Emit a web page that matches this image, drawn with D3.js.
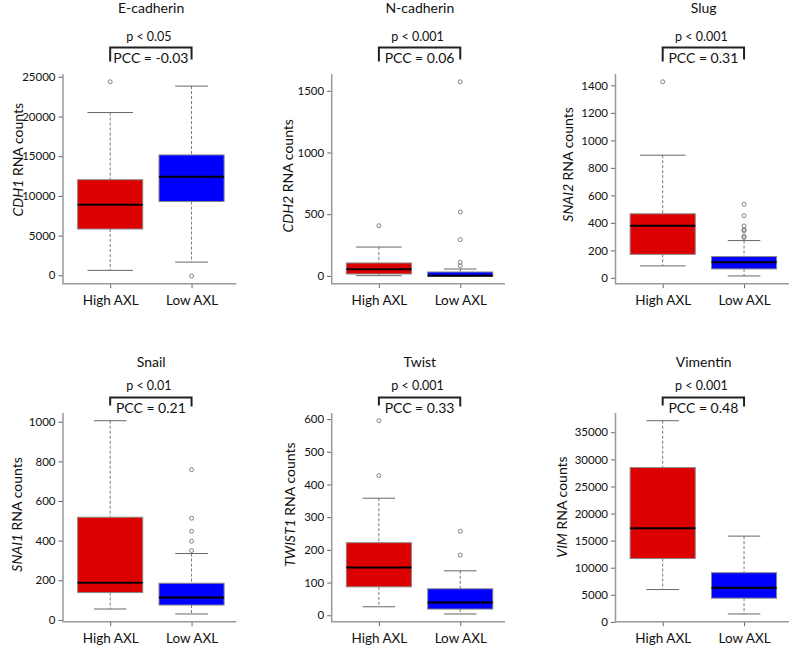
<!DOCTYPE html>
<html><head><meta charset="utf-8">
<script src="https://cdn.jsdelivr.net/npm/d3@7/dist/d3.min.js"></script>
<style>body{margin:0;background:#fff}svg{display:block;font-family:Lato,"Open Sans",sans-serif}</style>
</head><body><svg id="c" width="790" height="648"></svg>
<script>
// ---- data ----
const panelTitles = ["E-cadherin","N-cadherin","Slug","Snail","Twist","Vimentin"];
const geneNames = ["CDH1","CDH2","SNAI2","SNAI1","TWIST1","VIM"];
const pLabels = ["p < 0.05","p < 0.001","p < 0.001","p < 0.01","p < 0.001","p < 0.001"];
const pccLabels = ["PCC = -0.03","PCC = 0.06","PCC = 0.31","PCC = 0.21","PCC = 0.33","PCC = 0.48"];
const groups = ["High AXL","Low AXL"];
// [lower whisker, Q1, median, Q3, upper whisker]
const highStats = [
  [625, 5830, 8875, 12040, 20500],
  [2, 16, 55, 105, 234],
  [87, 171, 379, 466, 892],
  [55, 138, 188, 518, 1005],
  [26, 87, 146, 222, 358],
  [5970, 11690, 17290, 28480, 37130]
];
const lowStats = [
  [1660, 9290, 12410, 15160, 23830],
  [0, 0, 2, 32, 56],
  [14, 65, 113, 155, 271],
  [30, 75, 113, 185, 335],
  [4, 19, 39, 81, 136],
  [1460, 4380, 6280, 9075, 15830]
];
const highOutliers = [[24375],[407],[1426],[],[595,427],[]];
const lowOutliers = [[-80],[1573,518,294,110,82],[535,452,377,350,342,303,293],[758,513,447,397,350],[257,184],[]];
const yTicks = [
  [0,5000,10000,15000,20000,25000],
  [0,500,1000,1500],
  [0,200,400,600,800,1000,1200,1400],
  [0,200,400,600,800,1000],
  [0,100,200,300,400,500,600],
  [0,5000,10000,15000,20000,25000,30000,35000]
];

// ---- layout ----
const axisX = [63, 331.7, 615.5];
const rowTop = [74, 413], rowBottom = [283.7, 621.7];
const plotW = 173.3;
const titleY = [7.5, 361], pY = [36.7, 385.5], brTop = [47.5, 397.5], brLeg = [[14,12],[8,9]], pccY = [57.3, 407];
const ylabDx = [-46, -45, -48.3, -47.3, -42.7, -55];
const ylabY = [159.7, 175.8, 164.5, 514.5, 504.7, 507];
const capRatio = [[0.7,0.5],[0.5,0.5]];
const fills = ["#dd0000","#0000ff"];

const svg = d3.select("#c");
panelTitles.forEach((title, i) => {
  const row = Math.floor(i/3), col = i%3;
  const x0 = axisX[col], top = rowTop[row], bottom = rowBottom[row];
  const stats = [highStats[i], lowStats[i]];
  const outs = [highOutliers[i], lowOutliers[i]];
  const all = stats.flat().concat(outs.flat());
  const mn = d3.min(all), mx = d3.max(all), R = mx - mn;
  const y = d3.scaleLinear().domain([mn - 0.04*R, mx + 0.04*R]).range([bottom, top]);
  const x = d3.scaleLinear().domain([0.42, 2.55]).range([x0, x0 + plotW]);
  const bw = 0.8 * (x(2) - x(1));
  const g = svg.append("g");

  // axes
  const ya = g.append("g").attr("transform", `translate(${x0},0)`)
    .call(d3.axisLeft(y).tickValues(yTicks[i]).tickSize(4.5).tickPadding(3).tickFormat(d3.format("d")));
  ya.select(".domain").remove();
  ya.selectAll(".tick line").attr("stroke", "#666");
  ya.selectAll(".tick text").attr("font-size", "11.5px").attr("fill", "#111").attr("font-family","Lato");
  const xa = g.append("g").attr("transform", `translate(0,${bottom})`)
    .call(d3.axisBottom(x).tickValues([1,2]).tickSize(4.5).tickPadding(7).tickFormat((d,k)=>groups[k]));
  xa.select(".domain").remove();
  xa.selectAll(".tick line").attr("stroke", "#666");
  xa.selectAll(".tick text").attr("font-size", "13.5px").attr("fill", "#111").attr("font-family","Lato");
  g.append("path").attr("d", `M${x0},${top}V${bottom}H${x0+plotW}`)
    .attr("fill","none").attr("stroke","#999").attr("stroke-width",1.5);

  // boxes
  stats.forEach((s, k) => {
    const cx = x(k+1);
    const capW = bw * capRatio[row][k];
    g.append("line").attr("x1",cx).attr("x2",cx).attr("y1",y(s[4])).attr("y2",y(s[3]))
      .attr("stroke","#777").attr("stroke-dasharray","3,2").attr("stroke-width",1);
    g.append("line").attr("x1",cx).attr("x2",cx).attr("y1",y(s[1])).attr("y2",y(s[0]))
      .attr("stroke","#777").attr("stroke-dasharray","3,2").attr("stroke-width",1);
    g.append("line").attr("x1",cx-capW/2).attr("x2",cx+capW/2).attr("y1",y(s[4])).attr("y2",y(s[4]))
      .attr("stroke","#666").attr("stroke-width",1);
    g.append("line").attr("x1",cx-capW/2).attr("x2",cx+capW/2).attr("y1",y(s[0])).attr("y2",y(s[0]))
      .attr("stroke","#666").attr("stroke-width",1);
    g.append("rect").attr("x",cx-bw/2).attr("width",bw).attr("y",y(s[3])).attr("height",Math.max(1,y(s[1])-y(s[3])))
      .attr("fill",fills[k]).attr("stroke","#888").attr("stroke-width",1);
    g.append("line").attr("x1",cx-bw/2).attr("x2",cx+bw/2).attr("y1",y(s[2])).attr("y2",y(s[2]))
      .attr("stroke","#000").attr("stroke-width",2);
    g.selectAll(null).data(outs[k]).enter().append("circle")
      .attr("cx",cx).attr("cy",d=>y(d)).attr("r",2).attr("fill","none").attr("stroke","#666").attr("stroke-width",0.8);
  });

  // y label
  const yl = g.append("text").attr("transform",`translate(${x0+ylabDx[i]},${ylabY[i]}) rotate(-90)`)
    .attr("text-anchor","middle").attr("dominant-baseline","central").attr("font-size","14px").attr("fill","#111");
  yl.append("tspan").attr("font-style","italic").text(geneNames[i]);
  yl.append("tspan").text(" RNA counts");

  // title
  g.append("text").attr("x", x0 + plotW/2 + 1.5).attr("y", titleY[row]).attr("text-anchor","middle")
    .attr("dominant-baseline","central").attr("font-size","14px").attr("fill","#111").text(title);

  // bracket
  const bx1 = x(1), bx2 = x(2), bc = (bx1+bx2)/2;
  g.append("path").attr("d",`M${bx1},${brTop[row]+brLeg[row][0]}V${brTop[row]}H${bx2}V${brTop[row]+brLeg[row][1]}`)
    .attr("fill","none").attr("stroke","#222").attr("stroke-width",2);
  g.append("text").attr("x", bc-2).attr("y", pY[row]).attr("text-anchor","middle")
    .attr("dominant-baseline","central").attr("font-size","12.5px").attr("fill","#111").text(pLabels[i]);
  g.append("text").attr("x", bc).attr("y", pccY[row]).attr("text-anchor","middle")
    .attr("dominant-baseline","central").attr("font-size","14px").attr("fill","#111").text(pccLabels[i]);
});
</script></body></html>
